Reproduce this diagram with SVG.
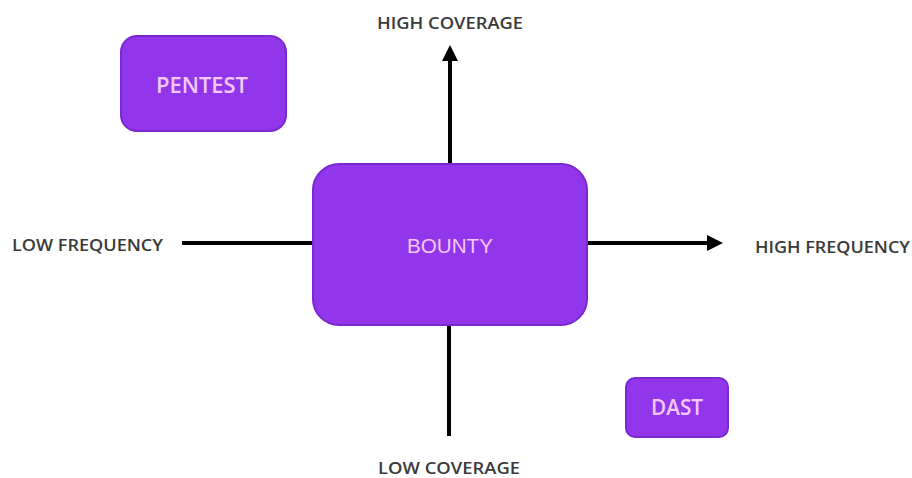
<svg xmlns="http://www.w3.org/2000/svg" width="912" height="478" viewBox="0 0 912 478">
<style>
.box{fill:#9136ea;stroke:#7b28cf;stroke-width:2}
.bt{font-family:"Open Sans","Liberation Sans",sans-serif;font-weight:600;fill:#f4c8f7;text-anchor:middle}
.bt2{font-family:"Liberation Sans",Arial,sans-serif;font-weight:400;fill:#f4c8f7;text-anchor:middle}
.lbl{font-family:"Open Sans","Liberation Sans",sans-serif;font-size:17px;font-weight:600;fill:#3a3a3a;}
.ax{stroke:#000;stroke-width:4;fill:none}
</style>
<defs>
<marker id="ah" markerWidth="4" markerHeight="4" refX="2" refY="2" orient="auto" markerUnits="strokeWidth">
<path d="M0,0 L4,2 L0,4 z" fill="#000"/>
</marker>
</defs>
<rect width="912" height="478" fill="#fff"/>
<g id="connectors">
<line class="ax" x1="450" y1="164" x2="450" y2="53" marker-end="url(#ah)"/>
<line class="ax" x1="449" y1="325" x2="449" y2="436"/>
<line class="ax" x1="182" y1="243" x2="313" y2="243"/>
<line class="ax" x1="587" y1="243" x2="715" y2="243" marker-end="url(#ah)"/>
</g>
<g id="pentest">
<rect class="box" x="121" y="36" width="165" height="95" rx="16"/>
<text class="bt" x="202" y="93" font-size="21" textLength="92" lengthAdjust="spacingAndGlyphs">PENTEST</text>
</g>
<g id="bounty">
<rect class="box" x="313" y="164" width="274" height="161" rx="26"/>
<text class="bt2" x="450" y="253" font-size="21" textLength="86" lengthAdjust="spacingAndGlyphs">BOUNTY</text>
</g>
<g id="dast">
<rect class="box" x="626" y="378" width="102" height="59" rx="9"/>
<text class="bt" x="677" y="415" font-size="21" textLength="52" lengthAdjust="spacingAndGlyphs">DAST</text>
</g>
<g id="labels">
<text class="lbl" x="450" y="29" text-anchor="middle" textLength="146" lengthAdjust="spacingAndGlyphs">HIGH COVERAGE</text>
<text class="lbl" x="449" y="474" text-anchor="middle" textLength="142" lengthAdjust="spacingAndGlyphs">LOW COVERAGE</text>
<text class="lbl" x="12" y="251" textLength="151" lengthAdjust="spacingAndGlyphs">LOW FREQUENCY</text>
<text class="lbl" x="755" y="253" textLength="155" lengthAdjust="spacingAndGlyphs">HIGH FREQUENCY</text>
</g>
</svg>
